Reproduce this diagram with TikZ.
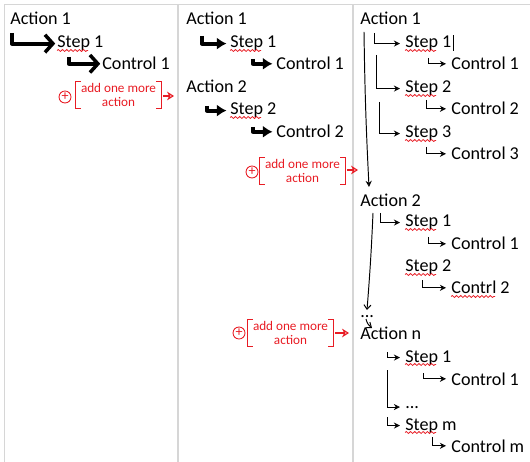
\documentclass[tikz,border=0pt]{standalone}
\usepackage{fontspec}
\setmainfont{Carlito}
\usetikzlibrary{arrows.meta,positioning,calc,decorations.pathmorphing}
\definecolor{inkred}{RGB}{232,28,36}
\definecolor{framegray}{RGB}{214,214,214}

% wavy spell-check underline below the first word of a label
\newcommand{\wavy}[2]{\draw[squiggle] ($(#1.base west)+(0,2.5)$) -- ++(#2,0);}
% hand-drawn brackets round a red note
\newcommand{\notebrackets}[1]{%
  \draw[redpen] ($(#1.north west)+(5,0)$) -- (#1.north west) -- (#1.south west) -- ($(#1.south west)+(5,0)$);
  \draw[redpen] ($(#1.north east)+(-5,0)$) -- (#1.north east) -- (#1.south east) -- ($(#1.south east)+(-5,0)$);}

\begin{document}
\begin{tikzpicture}[x=0.02cm, y=-0.02cm,
    lbl/.style={anchor=base west, inner sep=0pt, font=\fontsize{10.3}{12}\selectfont},
    fatarrow/.style={line width=2.2pt, line join=round, shorten >=1pt, -{Straight Barb[length=4.5pt,width=10pt,line width=2pt]}},
    blobarrow/.style={line width=2.2pt, line join=round, shorten >=2pt, -{Latex[length=5.5pt,width=7pt]}},
    hookarrow/.style={line width=0.55pt, shorten >=0.1cm, -{Stealth[open,length=3.5pt,width=3.5pt]}},
    droparrow/.style={line width=0.55pt, -{Straight Barb[length=2.5pt,width=4pt]}},
    squiggle/.style={inkred, line width=0.45pt, decorate, decoration={snake,amplitude=0.55pt,segment length=2.4pt}},
    notebox/.style={inkred, inner sep=0pt, minimum width=1.7cm, minimum height=0.52cm, align=center, font=\fontsize{7.5}{8.5}\selectfont},
    plusmark/.style={inkred, circle, draw, line width=0.5pt, inner sep=0pt, minimum size=0.24cm, font=\fontsize{8}{8}\selectfont},
    redpen/.style={inkred, line width=0.6pt},
    redarrow/.style={inkred, line width=0.6pt, -{Stealth[open,length=4pt,width=5pt]}},
]
    \useasboundingbox (0,0) rectangle (530,462);

    % Table frame
    \draw[framegray, line width=1pt] (4.5,462) -- (4.5,4.5) -- (530,4.5);
    \draw[framegray, line width=1pt] (178,4.5) -- (178,462);
    \draw[framegray, line width=1pt] (353,4.5) -- (353,462);

    % Left column
    \node[lbl] (lA1) at (10,25) {Action 1};
    \node[lbl] (lS1) at (57,48) {Step 1};
    \node[lbl] (lC1) at (102,70) {Control 1};
    \coordinate (lk1) at (12,33);
    \coordinate (lk2) at (69,57);
    \draw[fatarrow] (lk1) |- (lS1.west);
    \draw[fatarrow] (lk2) |- (lC1.west);
    \wavy{lS1}{31}

    \node[plusmark] (lP) at (65,97) {+};
    \node[notebox] (lN) at (118.5,95) {add one more\\action};
    \notebrackets{lN}
    \coordinate (lNe) at (174,96);
    \draw[redarrow] ($(lN.east)+(2,1)$) -- (lNe);

    % Middle column
    \node[lbl] (mA1) at (186,25) {Action 1};
    \node[lbl] (mS1) at (230,48) {Step 1};
    \node[lbl] (mC1) at (276,70) {Control 1};
    \node[lbl] (mA2) at (186,93) {Action 2};
    \node[lbl] (mS2) at (230,115) {Step 2};
    \node[lbl] (mC2) at (276,138) {Control 2};
    \coordinate (mk1) at (202,36);
    \coordinate (mk2) at (253,59);
    \coordinate (mk3) at (207,106);
    \coordinate (mk4) at (253,127);
    \draw[blobarrow] (mk1) |- (mS1.west);
    \draw[blobarrow] (mk2) |- (mC1.west);
    \draw[blobarrow] (mk3) |- (mS2.west);
    \draw[blobarrow] (mk4) |- (mC2.west);
    \wavy{mS1}{31}
    \wavy{mS2}{31}

    \node[plusmark] (mP1) at (252,172) {+};
    \node[notebox] (mN1) at (302.5,171) {add one more\\action};
    \notebrackets{mN1}
    \coordinate (mN1e) at (358,170);
    \draw[redarrow] ($(mN1.east)+(2,-1)$) -- (mN1e);

    \node[plusmark] (mP2) at (239,333) {+};
    \node[notebox] (mN2) at (290.5,333) {add one more\\action};
    \notebrackets{mN2}
    \coordinate (mN2e) at (349,333);
    \draw[redarrow] ($(mN2.east)+(2,0)$) -- (mN2e);

    % Right column: actions
    \node[lbl] (rA1) at (360,25) {Action 1};
    \node[lbl] (rA2) at (360,207) {Action 2};
    \node[lbl] (rD1) at (360,317) {...};
    \node[lbl] (rAn) at (360,339) {Action n};

    % Right column: steps and controls
    \node[lbl] (rS1) at (405,48) {Step 1};
    \node[lbl] (rC1) at (451,70) {Control 1};
    \node[lbl] (rS2) at (405,93) {Step 2};
    \node[lbl] (rC2) at (451,115) {Control 2};
    \node[lbl] (rS3) at (405,138) {Step 3};
    \node[lbl] (rC3) at (451,160) {Control 3};
    \node[lbl] (rS4) at (405,227) {Step 1};
    \node[lbl] (rC4) at (451,250) {Control 1};
    \node[lbl] (rS5) at (405,272) {Step 2};
    \node[lbl] (rC5) at (451,294) {Contrl 2};
    \node[lbl] (rS6) at (405,362) {Step 1};
    \node[lbl] (rC6) at (451,385) {Control 1};
    \node[lbl] (rD2) at (405,408) {...};
    \node[lbl] (rS7) at (405,430) {Step m};
    \node[lbl] (rC7) at (451,452) {Control m};
    \draw[line width=0.5pt] ($(rS1.base east)+(2,3)$) -- ++(0,-16);

    % long links from one action to the next
    \coordinate (rv1) at (364,32);
    \coordinate (rv1e) at (369,187);
    \coordinate (rv2) at (373,213);
    \coordinate (rv2e) at (367,310);
    \coordinate (rv3) at (366,319);
    \coordinate (rv3e) at (372,328);
    \draw[hookarrow, shorten >=0pt] (rv1) to[bend right=1] (rv1e);
    \draw[droparrow] (rv2) to[bend left=1] (rv2e);
    \draw[droparrow] (rv3) to[bend right=20] (rv3e);

    % hooks to steps and controls
    \coordinate (rk1) at (374,33);
    \coordinate (rk2) at (428,58);
    \coordinate (rk3) at (376,55);
    \coordinate (rk4) at (426,100);
    \coordinate (rk5) at (379,102);
    \coordinate (rk6) at (426,147);
    \coordinate (rk7) at (380,213);
    \coordinate (rk8) at (428,237);
    \coordinate (rk9) at (422,280);
    \coordinate (rk10) at (387,352);
    \coordinate (rk11) at (423,373);
    \coordinate (rk12) at (387,370);
    \coordinate (rk13) at (387,417);
    \coordinate (rk14) at (432,437);
    \draw[hookarrow] (rk1) |- (rS1.west);
    \draw[hookarrow] (rk2) |- (rC1.west);
    \draw[hookarrow] (rk3) |- (rS2.west);
    \draw[hookarrow] (rk4) |- (rC2.west);
    \draw[hookarrow] (rk5) |- (rS3.west);
    \draw[hookarrow] (rk6) |- (rC3.west);
    \draw[hookarrow] (rk7) |- (rS4.west);
    \draw[hookarrow] (rk8) |- (rC4.west);
    \draw[hookarrow] (rk9) |- (rC5.west);
    \draw[hookarrow] (rk10) |- (rS6.west);
    \draw[hookarrow] (rk11) |- (rC6.west);
    \draw[hookarrow] (rk12) |- (rD2.west);
    \draw[hookarrow] (rk13) |- (rS7.west);
    \draw[hookarrow] (rk14) |- (rC7.west);

    % spell-check marks
    \wavy{rS1}{31}
    \wavy{rS2}{31}
    \wavy{rS3}{31}
    \wavy{rS4}{31}
    \wavy{rS5}{31}
    \wavy{rC5}{44}
    \wavy{rS6}{31}
    \wavy{rS7}{31}
\end{tikzpicture}
\end{document}
